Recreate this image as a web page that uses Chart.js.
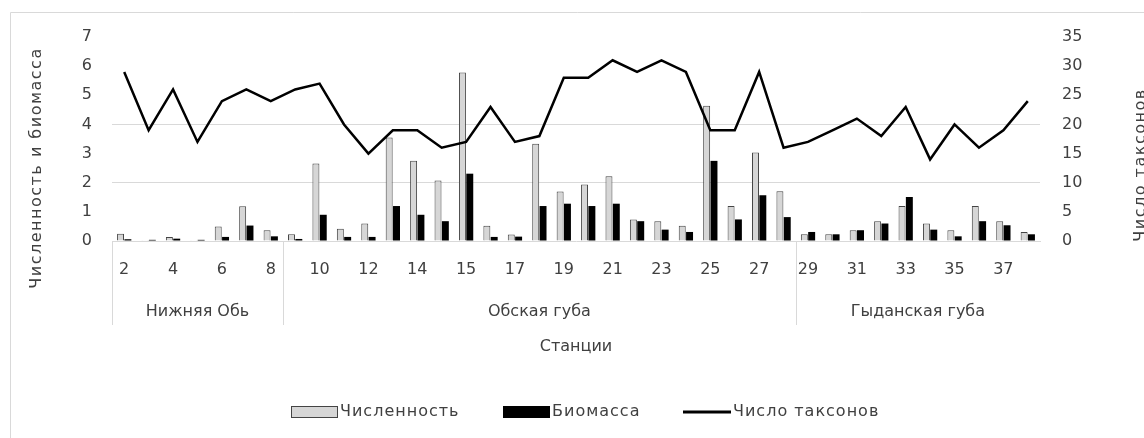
<!DOCTYPE html>
<html>
<head>
<meta charset="utf-8">
<script src="https://cdn.jsdelivr.net/npm/chart.js@4"></script>
<style>
  html, body { margin: 0; padding: 0; background: #fff; }
  #wrap { width: 1144px; height: 438px; }
</style>
</head>
<body>
<div id="wrap"><canvas id="stationsChart" width="1144" height="438"></canvas></div>
<script>
// stations (one unlabeled extra station sits between 14 and 15)
const stations = ['2','3','4','5','6','7','8','9','10','11','12','13','14','14а','15','16','17','18','19','20',
                  '21','22','23','24','25','26','27','28','29','30','31','32','33','34','35','36','37','38'];
const abundance = [0.25,0.03,0.14,0.03,0.5,1.19,0.37,0.23,2.66,0.42,0.6,3.55,2.75,2.08,5.78,0.52,0.22,3.34,1.7,1.94,
                   2.22,0.74,0.68,0.52,4.64,1.2,3.04,1.71,0.23,0.23,0.37,0.68,1.2,0.6,0.37,1.2,0.68,0.31];
const biomass = [0.06,0.04,0.08,0.04,0.14,0.53,0.16,0.07,0.9,0.14,0.14,1.2,0.9,0.68,2.31,0.14,0.15,1.2,1.28,1.2,
                 1.28,0.68,0.39,0.31,2.75,0.74,1.57,0.82,0.31,0.23,0.37,0.6,1.51,0.39,0.16,0.68,0.54,0.23];
const taxa = [29,19,26,17,24,26,24,26,27,20,15,19,19,16,17,23,17,18,28,28,
              31,29,31,29,19,19,29,16,17,19,21,18,23,14,20,16,19,24];

const groupNames = ['Нижняя Обь', 'Обская губа', 'Гыданская губа'];
const groupStarts = [0, 7, 28]; // index of first station in each group

const FONT = 'DejaVu Sans';
const TEXT = '#404040';

const extras = {
    id: 'extras',
    afterDraw(chart) {
        const ctx = chart.ctx;
        const x = chart.scales.x;
        const area = chart.chartArea;
        const n = stations.length;
        const edge = i => i <= 0 ? area.left : (i >= n ? area.right : (x.getPixelForValue(i - 1) + x.getPixelForValue(i)) / 2);

        ctx.save();
        // chart border (top and left only visible)
        ctx.strokeStyle = '#d9d9d9';
        ctx.lineWidth = 1;
        ctx.beginPath();
        ctx.moveTo(10.5, 438);
        ctx.lineTo(10.5, 12.5);
        ctx.lineTo(1144, 12.5);
        ctx.stroke();

        // group separators
        ctx.beginPath();
        groupStarts.forEach(s => {
            const px = Math.round(edge(s)) + 0.5;
            ctx.moveTo(px, area.bottom);
            ctx.lineTo(px, 325);
        });
        ctx.stroke();

        // group names
        ctx.fillStyle = TEXT;
        ctx.font = '16px "' + FONT + '"';
        ctx.textAlign = 'center';
        ctx.textBaseline = 'middle';
        groupNames.forEach((g, k) => {
            const a = edge(groupStarts[k]);
            const b = edge(k + 1 < groupStarts.length ? groupStarts[k + 1] : n);
            ctx.fillText(g, (a + b) / 2, 312);
        });
        ctx.fillText('Станции', (area.left + area.right) / 2, 347);

        // axis titles
        ctx.letterSpacing = '1.5px';
        ctx.save();
        ctx.translate(37, 168);
        ctx.rotate(-Math.PI / 2);
        ctx.fillText('Численность и биомасса', 0, 0);
        ctx.restore();
        ctx.save();
        ctx.translate(1141, 165);
        ctx.rotate(-Math.PI / 2);
        ctx.fillText('Число таксонов', 0, 0);
        ctx.restore();

        // legend
        ctx.letterSpacing = '1px';
        const ly = 412;
        ctx.textAlign = 'left';
        ctx.fillStyle = '#d6d6d6';
        ctx.fillRect(291, ly - 6, 47, 12);
        ctx.strokeStyle = '#444';
        ctx.strokeRect(291.5, ly - 5.5, 46, 11);
        ctx.fillStyle = TEXT;
        ctx.fillText('Численность', 340, ly);
        ctx.fillStyle = '#000';
        ctx.fillRect(503, ly - 6, 47, 12);
        ctx.fillStyle = TEXT;
        ctx.fillText('Биомасса', 552, ly);
        ctx.strokeStyle = '#000';
        ctx.lineWidth = 3;
        ctx.beginPath();
        ctx.moveTo(683, ly);
        ctx.lineTo(731, ly);
        ctx.stroke();
        ctx.fillText('Число таксонов', 733, ly);
        ctx.restore();
    }
};

const ctx = document.getElementById('stationsChart').getContext('2d');
new Chart(ctx, {
    type: 'bar',
    data: {
        labels: stations,
        datasets: [{
            label: 'Численность',
            data: abundance,
            backgroundColor: '#d6d6d6',
            borderColor: '#444',
            borderWidth: 1,
            yAxisID: 'y',
            order: 1
        }, {
            label: 'Биомасса',
            data: biomass,
            backgroundColor: '#000',
            borderWidth: 0,
            yAxisID: 'y',
            order: 1
        }, {
            type: 'line',
            label: 'Число таксонов',
            data: taxa,
            borderColor: '#000',
            borderWidth: 2.5,
            pointRadius: 0,
            tension: 0,
            yAxisID: 'y1',
            order: 0
        }]
    },
    options: {
        responsive: false,
        animation: false,
        devicePixelRatio: 1,
        layout: { padding: { top: 37, bottom: 0, left: 0, right: 0 } },
        datasets: { bar: { categoryPercentage: 0.6, barPercentage: 0.95 } },
        plugins: { legend: { display: false }, tooltip: { enabled: false } },
        scales: {
            x: {
                grid: { display: false },
                border: { display: true, color: '#d9d9d9', width: 1 },
                ticks: {
                    autoSkip: false,
                    maxRotation: 0,
                    padding: 11,
                    color: TEXT,
                    font: { family: FONT, size: 16 },
                    callback: (v, i) => i % 2 === 0 ? stations[i] : ''
                },
                afterFit: s => { s.height = 438 - 241; }
            },
            y: {
                min: 0, max: 7,
                ticks: { stepSize: 1, padding: 20, color: TEXT, font: { family: FONT, size: 16 } },
                grid: {
                    drawTicks: false,
                    color: c => (c.tick.value === 2 || c.tick.value === 4) ? '#d9d9d9' : 'rgba(0,0,0,0)'
                },
                border: { display: false },
                afterFit: s => { s.width = 112; }
            },
            y1: {
                position: 'right',
                min: 0, max: 35,
                ticks: { stepSize: 5, padding: 22, color: TEXT, font: { family: FONT, size: 16 } },
                grid: { display: false, drawTicks: false },
                border: { display: false },
                afterFit: s => { s.width = 1144 - 1040; }
            }
        }
    },
    plugins: [extras]
});
</script>
</body>
</html>
